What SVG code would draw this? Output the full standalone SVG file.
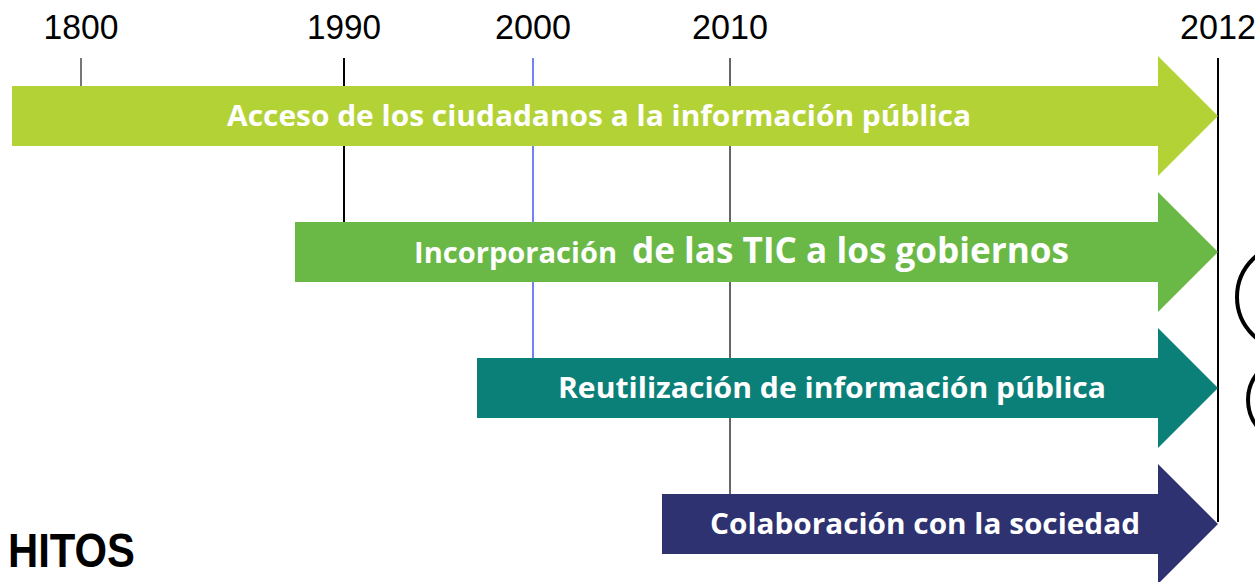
<svg xmlns="http://www.w3.org/2000/svg" width="1255" height="582" viewBox="0 0 1255 582">
  <style>
    .year { font-family: "Liberation Sans", Arial, sans-serif; font-size: 35px; fill: #000; text-anchor: middle; }
    .lbl { font-family: "Open Sans", "DejaVu Sans", sans-serif; font-weight: bold; font-size: 29px; fill: #fff; text-anchor: middle; }
    .tick { stroke-width: 2; }
  </style>
  <rect width="1255" height="582" fill="#fff"/>
  <g id="connectors">
    <line class="tick" x1="81" y1="58" x2="81" y2="87" stroke="#777"/>
    <line class="tick" x1="344" y1="58" x2="344" y2="223" stroke="#000"/>
    <line class="tick" x1="533" y1="58" x2="533" y2="359" stroke="#7282f2"/>
    <line class="tick" x1="730" y1="58" x2="730" y2="495" stroke="#666"/>
    <line x1="1218" y1="58" x2="1218" y2="522" stroke="#000" stroke-width="2"/>
  </g>
  <g id="years">
    <text class="year" x="81" y="39" textLength="75" lengthAdjust="spacingAndGlyphs">1800</text>
    <text class="year" x="344" y="39" textLength="74" lengthAdjust="spacingAndGlyphs">1990</text>
    <text class="year" x="533" y="39" textLength="76" lengthAdjust="spacingAndGlyphs">2000</text>
    <text class="year" x="730" y="39" textLength="76" lengthAdjust="spacingAndGlyphs">2010</text>
    <text class="year" x="1218" y="39" textLength="76" lengthAdjust="spacingAndGlyphs">2012</text>
  </g>
  <g id="arrow1">
    <polygon points="12,86 1158,86 1158,56 1218,116 1158,176 1158,146 12,146" fill="#b3d236"/>
    <text class="lbl" x="599" y="126" textLength="744" lengthAdjust="spacingAndGlyphs">Acceso de los ciudadanos a la información pública</text>
  </g>
  <g id="arrow2">
    <polygon points="295,222 1158,222 1158,192 1218,252 1158,312 1158,282 295,282" fill="#6ab946"/>
    <text x="414" y="263" font-family="'Open Sans', 'DejaVu Sans', sans-serif" font-weight="bold" fill="#fff"><tspan font-size="28" textLength="203" lengthAdjust="spacingAndGlyphs">Incorporación</tspan><tspan x="632" font-size="36" textLength="437" lengthAdjust="spacingAndGlyphs">de las TIC a los gobiernos</tspan></text>
  </g>
  <g id="arrow3">
    <polygon points="477,358 1158,358 1158,328 1218,388 1158,448 1158,418 477,418" fill="#0a8079"/>
    <text class="lbl" x="832" y="398" textLength="548" lengthAdjust="spacingAndGlyphs">Reutilización de información pública</text>
  </g>
  <g id="arrow4">
    <polygon points="662,494 1158,494 1158,464 1218,524 1158,584 1158,554 662,554" fill="#2e3270"/>
    <text class="lbl" x="925" y="534" textLength="430" lengthAdjust="spacingAndGlyphs">Colaboración con la sociedad</text>
  </g>
  <g id="hitos">
    <text x="8" y="567" font-family="'Liberation Sans', Arial, sans-serif" font-weight="bold" font-size="48" fill="#000" textLength="127" lengthAdjust="spacingAndGlyphs">HITOS</text>
  </g>
  <g id="circles" fill="none" stroke="#000" stroke-width="4">
    <circle cx="1290" cy="297" r="53"/>
    <circle cx="1291" cy="400" r="43"/>
  </g>
</svg>
